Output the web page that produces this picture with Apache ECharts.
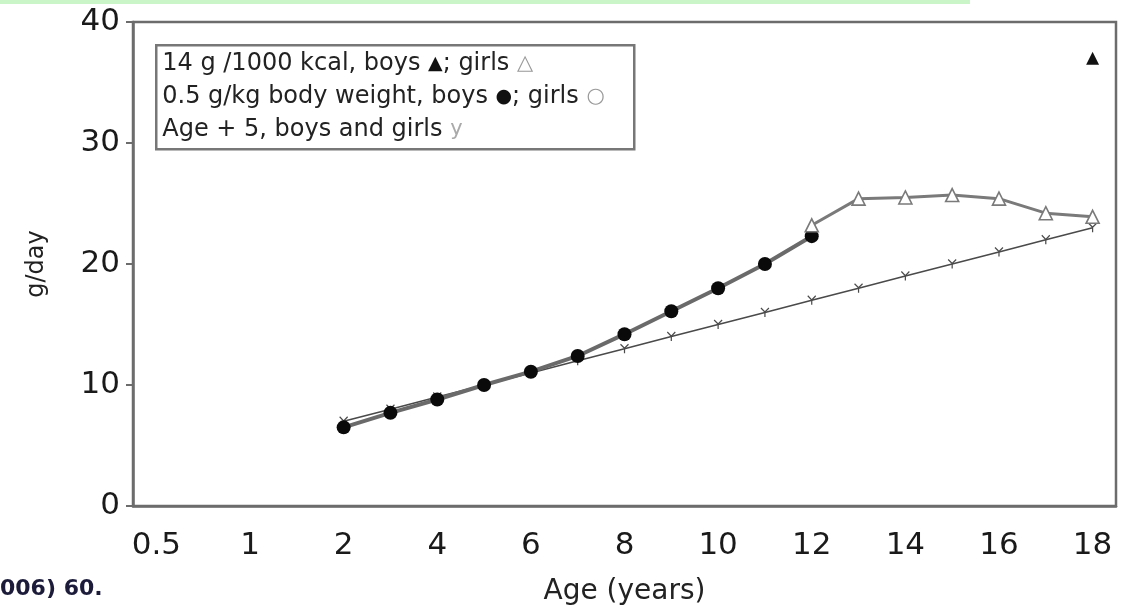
<!DOCTYPE html>
<html>
<head>
<meta charset="utf-8">
<script src="https://cdn.jsdelivr.net/npm/echarts@6/dist/echarts.min.js"></script>
<style>
  html, body { margin: 0; padding: 0; background: #fff; }
  #chart { width: 1121px; height: 611px; }
</style>
</head>
<body>
<div id="chart"></div>
<script>
// ages on the x axis (category bands; every other one is labelled)
const ages = ['0.5', '0.75', '1', '1.5', '2', '3', '4', '5', '6', '7', '8', '9', '10', '11', '12', '13', '14', '15', '16', '17', '18']
const yTicks = [0, 10, 20, 30, 40]

// g/day (null = not visible)
const agePlus5 = [null, null, null, null, 7, 8, 9, 10, 11, 12, 13, 14, 15, 16, 17, 18, 19, 20, 21, 22, 23]
const boysPerKg = [null, null, null, null, 6.5, 7.7, 8.8, 10.0, 11.1, 12.4, 14.2, 16.1, 18.0, 20.0, 22.3, null, null, null, null, null, null]
const girlsPerKcal = [null, null, null, null, null, null, null, null, null, null, null, null, null, null, 23.2, 25.4, 25.5, 25.7, 25.4, 24.2, 23.9]
const boysPerKcal = [null, null, null, null, null, null, null, null, null, null, null, null, null, null, null, null, null, null, null, null, 37.0]

const legendLines = [
  '14 g /1000 kcal, boys {b|▲}; girls {o|△}',
  '0.5 g/kg body weight, boys {b|●}; girls {o|○}',
  'Age + 5, boys and girls {y|y}'
]

const axisGray = '#6c6c6c'
const font = 'DejaVu Sans, Arial, sans-serif'
const yMark = 'path://M0,0L5,5M10,0L5,5M5,5L5,11'

const chart = echarts.init(document.getElementById('chart'))
chart.setOption({
  backgroundColor: '#fff',
  animation: false,
  grid: { left: 133, right: 5, top: 22, bottom: 103, show: true, borderColor: axisGray, borderWidth: 2.5 },
  xAxis: {
    type: 'category', data: ages, boundaryGap: true,
    name: 'Age (years)', nameLocation: 'middle', nameGap: 72,
    nameTextStyle: { color: '#222', fontSize: 28, fontFamily: font },
    axisLine: { lineStyle: { color: axisGray, width: 2.5 } },
    axisTick: { interval: 0, length: 8, lineStyle: { color: axisGray, width: 2 } },
    axisLabel: { interval: 1, margin: 24, color: '#1a1a1a', fontSize: 31, fontFamily: font }
  },
  yAxis: {
    type: 'value', min: yTicks[0], max: yTicks[yTicks.length - 1], interval: 10,
    name: 'g/day', nameLocation: 'middle', nameGap: 84,
    nameTextStyle: { color: '#222', fontSize: 24, fontFamily: font },
    splitLine: { show: false },
    axisLine: { show: true, lineStyle: { color: axisGray, width: 2.5 } },
    axisTick: { show: true, length: 7, lineStyle: { color: axisGray, width: 2 } },
    axisLabel: { margin: 13, color: '#1a1a1a', fontSize: 31, fontFamily: font }
  },
  series: [
    {
      name: 'Age + 5', type: 'line', data: agePlus5, z: 2,
      symbol: yMark, symbolSize: [8, 9], showSymbol: true,
      lineStyle: { color: '#4a4a4a', width: 1.6 },
      itemStyle: { color: 'none', borderColor: '#4a4a4a', borderWidth: 1.3 }
    },
    {
      name: '0.5 g/kg boys', type: 'line', data: boysPerKg, z: 3,
      symbol: 'circle', symbolSize: 14,
      lineStyle: { color: '#6a6a6a', width: 4 },
      itemStyle: { color: '#0a0a0a', borderWidth: 0 }
    },
    {
      name: '14 g/1000 kcal girls', type: 'line', data: girlsPerKcal, z: 3,
      symbol: 'triangle', symbolSize: 13,
      lineStyle: { color: '#7a7a7a', width: 3 },
      itemStyle: { color: '#fff', borderColor: '#7a7a7a', borderWidth: 1.6 }
    },
    {
      name: '14 g/1000 kcal boys', type: 'line', data: boysPerKcal, z: 3,
      symbol: 'triangle', symbolSize: 13,
      itemStyle: { color: '#111' }
    }
  ],
  graphic: [
    { type: 'rect', left: 0, top: 0, shape: { width: 970, height: 4 }, style: { fill: '#c9f5c9' } },
    {
      type: 'group', left: 155, top: 44,
      children: [
        { type: 'rect', shape: { width: 478, height: 104 }, style: { fill: '#fff', stroke: '#777', lineWidth: 2.5 } },
        {
          type: 'text', left: 6, top: 2,
          style: {
            text: legendLines.join('\n'), fill: '#222', font: '24px ' + font, lineHeight: 33,
            rich: {
              b: { fill: '#111', fontSize: 19, fontFamily: font },
              o: { fill: '#999', fontSize: 21, fontFamily: font },
              y: { fill: '#aaa', fontSize: 21, fontFamily: font }
            }
          }
        }
      ]
    },
    { type: 'text', left: 0, top: 578, style: { text: '006) 60.', fill: '#1c1c3a', font: 'bold 22px ' + font } }
  ]
})
</script>
</body>
</html>
